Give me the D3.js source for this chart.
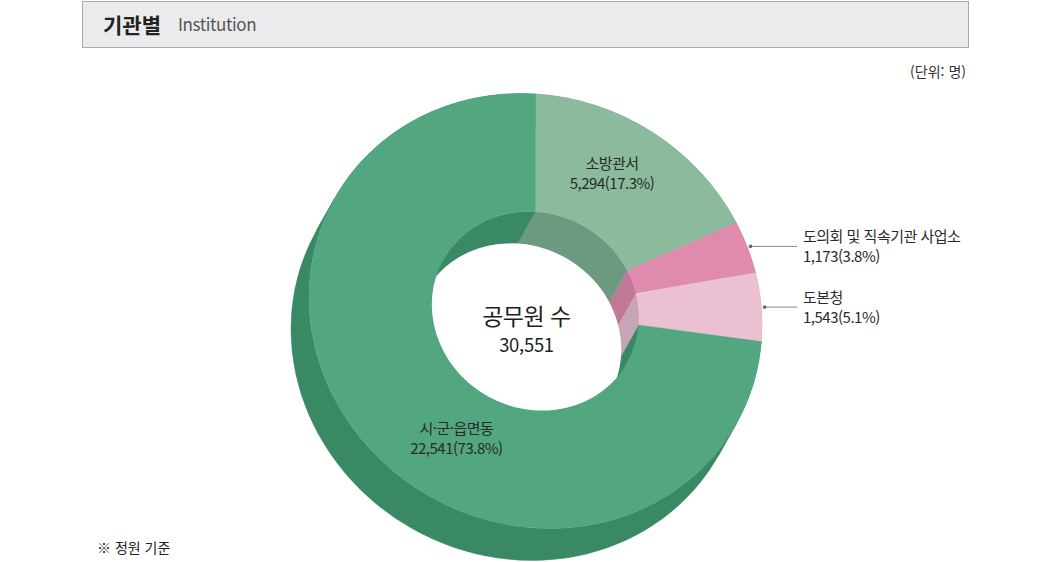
<!DOCTYPE html>
<html lang="ko">
<head>
<meta charset="utf-8">
<script src="https://cdn.jsdelivr.net/npm/d3@7"></script>
<style>
  html, body { margin: 0; padding: 0; background: #fff; }
  svg { display: block; font-family: 'Noto Sans CJK KR', 'Noto Sans', sans-serif; }
</style>
</head>
<body>
<svg id="chart" width="1050" height="562"></svg>
<script>
// data, clockwise from 12 o'clock
const categories = ['소방관서', '도의회 및 직속기관 사업소', '도본청', '시·군·읍면동'];
const values = [5294, 1173, 1543, 22541];
const faceColors = ['#8cba9c', '#e08bae', '#ecc0d3', '#52a680'];
const sideColors = ['#6c9a80', '#c07898', '#c8a5b4', '#3a8965'];
const labelKind = ['inside', 'outside', 'outside', 'inside'];

const total = d3.sum(values);
const fmtNum = d3.format(',');
const fmtPct = d3.format('.1%');

// tilted disc: local circle of radius R, projected with a small shear
const R = 100;
const innerR = R * 0.458;
const cx = 535.5, cy = 311;
const sx = 226.5 / R, sy = 217 / R, shear = 14 / R;
const depth = [-18, 32];            // screen offset of the back face
const project = (x, y) => [cx + sx * x, cy + shear * x + sy * y];
const discTransform = `matrix(${sx},${shear},0,${sy},${cx},${cy})`;

// depth in local coords
const vx = depth[0] / sx;
const vy = (depth[1] - shear * vx) / sy;
const tangent = Math.atan2(vy, vx);

const svg = d3.select('#chart');

// header
svg.append('rect')
  .attr('x', 82.5).attr('y', 1.5).attr('width', 886).attr('height', 46)
  .attr('fill', '#ebebed').attr('stroke', '#aaaaaa');
svg.append('text')
  .attr('x', 103).attr('y', 33)
  .attr('font-size', 21).attr('font-weight', 700).attr('fill', '#222')
  .text('기관별');
svg.append('text')
  .attr('x', 178).attr('y', 31)
  .attr('font-size', 17).attr('fill', '#555').attr('letter-spacing', -0.4)
  .text('Institution');

svg.append('text')
  .attr('x', 966).attr('y', 77).attr('text-anchor', 'end')
  .attr('font-size', 14).attr('fill', '#333')
  .text('(단위: 명)');
svg.append('text')
  .attr('x', 97).attr('y', 553)
  .attr('font-size', 14).attr('fill', '#222')
  .text('※ 정원 기준');

const pie = d3.pie().sort(null).value(d => d);
const slices = pie(values).map((s, i) => ({ ...s, i }));

const disc = svg.append('g').attr('transform', discTransform);
disc.append('defs').append('clipPath').attr('id', 'hole')
  .append('circle').attr('r', innerR);

// split an arc at the silhouette angles so each swept piece is simple
function pieces(a0, a1) {
  const cuts = [tangent - Math.PI, tangent, tangent + Math.PI, tangent + 2 * Math.PI]
    .filter(t => t > a0 && t < a1);
  return d3.pairs([a0, ...cuts, a1]);
}
function sweptPath(r, a, b) {
  const p = d3.path();
  p.moveTo(r * Math.sin(a), -r * Math.cos(a));
  p.arc(0, 0, r, a - Math.PI / 2, b - Math.PI / 2, false);
  p.lineTo(vx + r * Math.sin(b), vy - r * Math.cos(b));
  p.arc(vx, vy, r, b - Math.PI / 2, a - Math.PI / 2, true);
  p.closePath();
  return p.toString();
}

// side walls: outer then inner
[R, innerR].forEach(r => {
  slices.forEach(s => {
    pieces(s.startAngle, s.endAngle).forEach(([a, b]) => {
      disc.append('path')
        .attr('d', sweptPath(r, a, b))
        .attr('fill', sideColors[s.i])
        .attr('stroke', sideColors[s.i]).attr('stroke-width', 0.2);
    });
  });
});

// top face
const arc = d3.arc().innerRadius(innerR).outerRadius(R);
disc.selectAll('path.face')
  .data(slices)
  .join('path')
  .attr('class', 'face')
  .attr('d', arc)
  .attr('fill', d => faceColors[d.i])
  .attr('stroke', d => faceColors[d.i]).attr('stroke-width', 0.15);

// see-through hole
disc.append('circle')
  .attr('cx', vx).attr('cy', vy).attr('r', innerR)
  .attr('fill', '#fff')
  .attr('clip-path', 'url(#hole)');

// centre text
const hole = project(vx / 2, vy / 2);
svg.append('text')
  .attr('x', hole[0]).attr('y', hole[1] - 2).attr('text-anchor', 'middle')
  .attr('font-size', 23).attr('fill', '#1e1e1e').attr('letter-spacing', -0.5)
  .text('공무원 수');
svg.append('text')
  .attr('x', hole[0]).attr('y', hole[1] + 25).attr('text-anchor', 'middle')
  .attr('font-size', 18.5).attr('fill', '#1e1e1e').attr('letter-spacing', -0.3)
  .text(fmtNum(total));

// labels
const deg = Math.PI / 180;
const labelAngle = { 0: 28 * deg, 3: 209 * deg };
const lineEndX = 797;
slices.forEach(s => {
  const name = categories[s.i];
  const val = `${fmtNum(values[s.i])}(${fmtPct(values[s.i] / total)})`;
  const mid = labelAngle[s.i] ?? (s.startAngle + s.endAngle) / 2;
  if (labelKind[s.i] === 'inside') {
    const rr = R * 0.72;
    const [x, y] = project(rr * Math.sin(mid), -rr * Math.cos(mid));
    const t = svg.append('text').attr('text-anchor', 'middle')
      .attr('font-size', 15).attr('fill', '#2a2a2a').attr('letter-spacing', -0.5);
    t.append('tspan').attr('x', x).attr('y', y - 9).text(name);
    t.append('tspan').attr('x', x).attr('y', y + 11).text(val);
  } else {
    const rr = R * 1.015;
    const [x, y] = project(rr * Math.sin(mid), -rr * Math.cos(mid));
    svg.append('line')
      .attr('x1', x).attr('y1', y).attr('x2', lineEndX).attr('y2', y)
      .attr('stroke', '#888').attr('stroke-width', 1);
    svg.append('circle').attr('cx', x).attr('cy', y).attr('r', 1.8).attr('fill', '#666');
    const t = svg.append('text')
      .attr('font-size', 15).attr('fill', '#2a2a2a').attr('letter-spacing', -0.5);
    t.append('tspan').attr('x', lineEndX + 6).attr('y', y - 4).text(name);
    t.append('tspan').attr('x', lineEndX + 6).attr('y', y + 16).text(val);
  }
});
</script>
</body>
</html>
